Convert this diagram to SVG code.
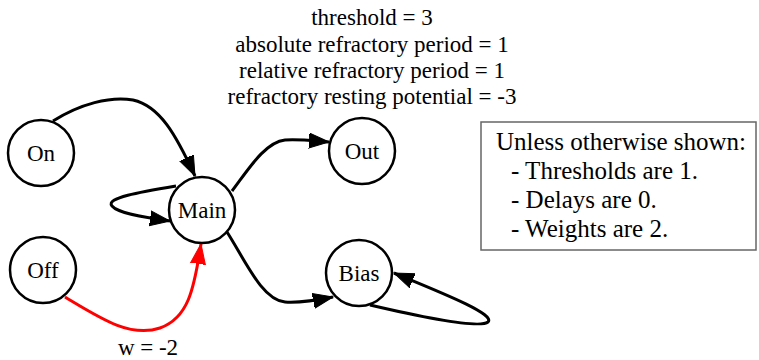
<svg xmlns="http://www.w3.org/2000/svg" width="759" height="360" viewBox="0 0 759 360">
<style>
  text { font-family: "Liberation Serif", "Times New Roman", serif; fill: #000; }
  .node circle { fill: #fff; stroke: #000; stroke-width: 2.5; }
  .node text { font-size: 23px; text-anchor: middle; }
  .edge { fill: none; stroke: #000; stroke-width: 3; }
  .red { stroke: #ff0000; }
  .title { font-size: 23px; text-anchor: middle; }
  .note { font-size: 25px; }
</style>
<defs>
  <marker id="ah" markerUnits="userSpaceOnUse" markerWidth="22" markerHeight="17" refX="20" refY="8" orient="auto">
    <path d="M0,0.5 L20,8 L0,15.5 Z" fill="#000" stroke="#000" stroke-width="1"/>
  </marker>
  <marker id="ahr" markerUnits="userSpaceOnUse" markerWidth="22" markerHeight="17" refX="20" refY="8" orient="auto">
    <path d="M0,0.5 L20,8 L0,15.5 Z" fill="#ff0000" stroke="#ff0000" stroke-width="1"/>
  </marker>
</defs>

<g id="graph-label">
  <text class="title" x="372" y="25">threshold = 3</text>
  <text class="title" x="372" y="51.5">absolute refractory period = 1</text>
  <text class="title" x="372" y="78">relative refractory period = 1</text>
  <text class="title" x="372" y="104">refractory resting potential = -3</text>
</g>

<g id="connectors">
  <path class="edge" d="M53,121 C80,104 110,96 133,100 C160,106 176,135 195,176" marker-end="url(#ah)"/>
  <path class="edge" d="M176,186 C140,192 105,198 112,206 C118,213 140,217 170,221" marker-end="url(#ah)"/>
  <path class="edge red" d="M65,297 C100,318 130,338 160,328 C188,318 194,290 201,244" marker-end="url(#ahr)"/>
  <path class="edge" d="M232,191 C248,170 265,142 285,140 C300,139 315,141 329,142" marker-end="url(#ah)"/>
  <path class="edge" d="M227,232 C245,260 262,300 285,302 C300,303 318,300 333,297" marker-end="url(#ah)"/>
  <path class="edge" d="M370,305 C400,312 478,330 488,322 C496,314 440,292 394,273" marker-end="url(#ah)"/>
  <text x="148" y="355" font-size="23" text-anchor="middle">w = -2</text>
</g>

<g id="node-on" class="node">
  <circle cx="41" cy="153" r="33"/>
  <text x="41" y="161">On</text>
</g>
<g id="node-main" class="node">
  <circle cx="202" cy="210" r="33"/>
  <text x="202" y="218">Main</text>
</g>
<g id="node-off" class="node">
  <circle cx="43" cy="270" r="33"/>
  <text x="43" y="278">Off</text>
</g>
<g id="node-out" class="node">
  <circle cx="362" cy="151" r="33"/>
  <text x="362" y="159">Out</text>
</g>
<g id="node-bias" class="node">
  <circle cx="359" cy="273" r="33"/>
  <text x="359" y="281">Bias</text>
</g>

<g id="note">
  <rect x="481" y="122" width="275" height="128" fill="#fff" stroke="#666" stroke-width="1.5"/>
  <text class="note" x="496" y="150">Unless otherwise shown:</text>
  <text class="note" x="511" y="179">- Thresholds are 1.</text>
  <text class="note" x="511" y="208">- Delays are 0.</text>
  <text class="note" x="511" y="237">- Weights are 2.</text>
</g>
</svg>
